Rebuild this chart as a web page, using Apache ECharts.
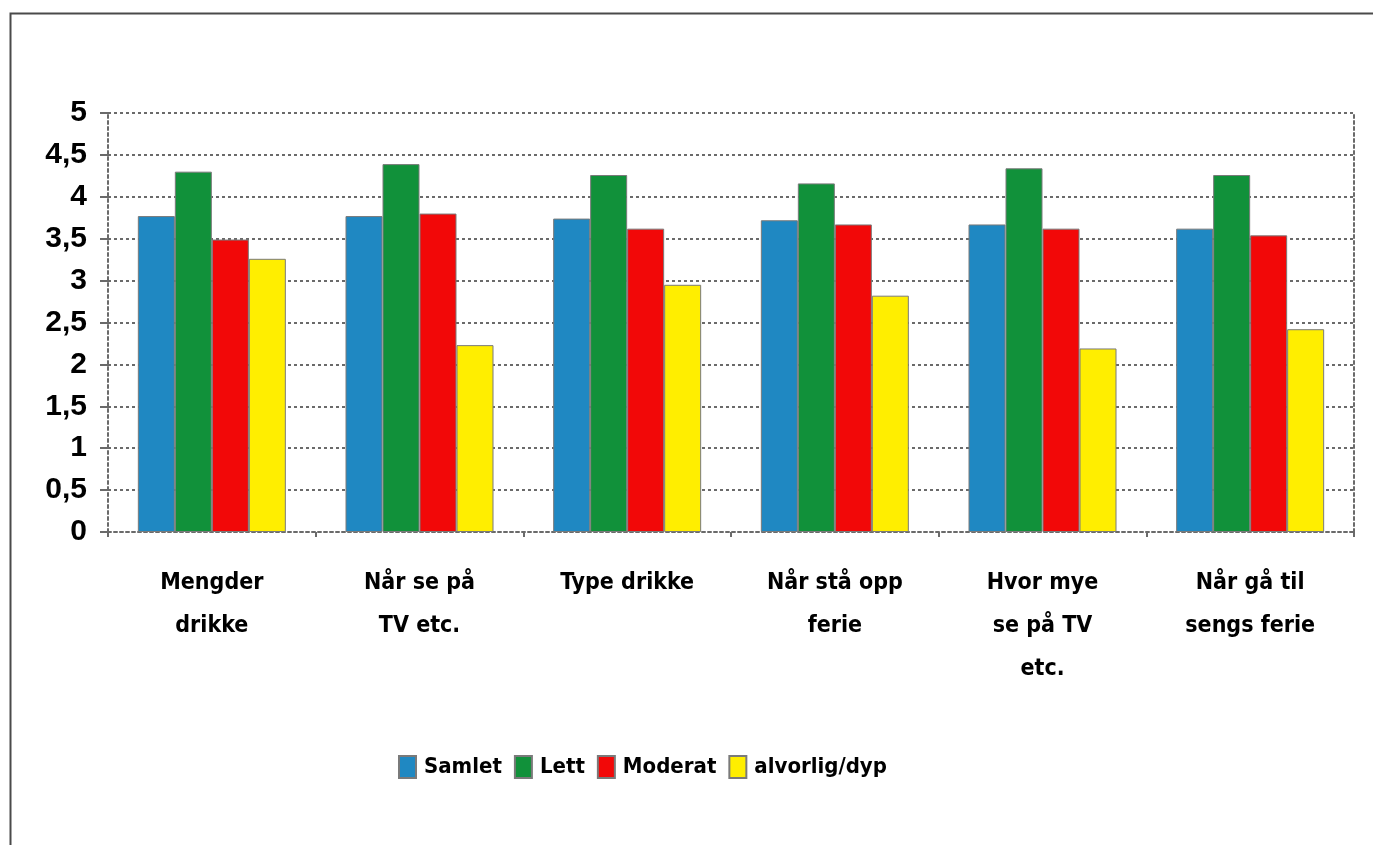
<!DOCTYPE html>
<html>
<head>
<meta charset="utf-8">
<script src="https://cdn.jsdelivr.net/npm/echarts@6/dist/echarts.min.js"></script>
<style>
html,body{margin:0;padding:0;background:#fff;}
#c{width:1373px;height:845px;}
</style>
</head>
<body>
<div id="c"></div>
<script>
const categories = ["Mengder\ndrikke", "Når se på\nTV etc.", "Type drikke", "Når stå opp\nferie", "Hvor mye\nse på TV\netc.", "Når gå til\nsengs ferie"];
const seriesNames = ["Samlet", "Lett", "Moderat", "alvorlig/dyp"];
const samlet = [3.77, 3.77, 3.74, 3.72, 3.67, 3.62];
const lett = [4.30, 4.39, 4.26, 4.16, 4.34, 4.26];
const moderat = [3.49, 3.80, 3.62, 3.67, 3.62, 3.54];
const alvorlig = [3.26, 2.23, 2.95, 2.82, 2.19, 2.42];
const yTicks = ["0", "0,5", "1", "1,5", "2", "2,5", "3", "3,5", "4", "4,5", "5"];

const colors = ["#1f88c2", "#11913a", "#f20808", "#ffee00"];
const narrow = "'DejaVu Sans Condensed', 'Liberation Sans Narrow', 'Liberation Sans', sans-serif";
const dashLine = {color: "#6a6a6a", width: 2, type: [3, 3]};

const chart = echarts.init(document.getElementById('c'), null, {renderer: 'canvas'});
const values = [samlet, lett, moderat, alvorlig];
chart.setOption({
  animation: false,
  backgroundColor: '#ffffff',
  color: colors,
  graphic: [{
    type: 'rect', shape: {x: 10.5, y: 13.5, width: 1400, height: 900},
    style: {fill: 'none', stroke: '#4a4a4a', lineWidth: 2}, silent: true, z: -1
  }],
  grid: {left: 108, right: 19, top: 113, bottom: 313, containLabel: false},
  legend: {
    left: 393, top: 750,
    itemWidth: 17, itemHeight: 22, itemGap: 12,
    icon: 'rect',
    textStyle: {fontFamily: narrow, fontWeight: 'bold', fontSize: 22, color: '#000', padding: [0, 0, 0, 3]},
    data: seriesNames
  },
  xAxis: {
    type: 'category',
    data: categories,
    axisLine: {lineStyle: dashLine},
    axisTick: {show: true, length: 5, lineStyle: {color: '#6a6a6a', width: 2}},
    axisLabel: {
      interval: 0, margin: 30, fontFamily: narrow, fontWeight: 'bold', fontSize: 23,
      lineHeight: 43, color: '#000', align: 'center'
    }
  },
  yAxis: [{
    type: 'value', min: 0, max: 5, interval: 0.5,
    axisLine: {show: true, lineStyle: dashLine},
    axisTick: {show: true, length: 8, lineStyle: {color: '#6a6a6a', width: 2}},
    splitLine: {show: true, lineStyle: dashLine},
    axisLabel: {
      margin: 21, fontFamily: "'Liberation Sans', Arial, sans-serif", fontWeight: 'bold', fontSize: 30, color: '#000',
      formatter: function (v) { return yTicks[Math.round(v * 2)]; }
    }
  }, {
    type: 'value', min: 0, max: 5, interval: 0.5, position: 'right',
    axisLine: {show: true, lineStyle: dashLine},
    axisTick: {show: false}, axisLabel: {show: false}, splitLine: {show: false}
  }],
  series: seriesNames.map((n, i) => ({
    name: n, type: 'bar', data: values[i], barWidth: 37, barGap: '0%',
    itemStyle: {color: colors[i], borderColor: '#7a7a7a', borderWidth: 1}
  }))
});
</script>
</body>
</html>
